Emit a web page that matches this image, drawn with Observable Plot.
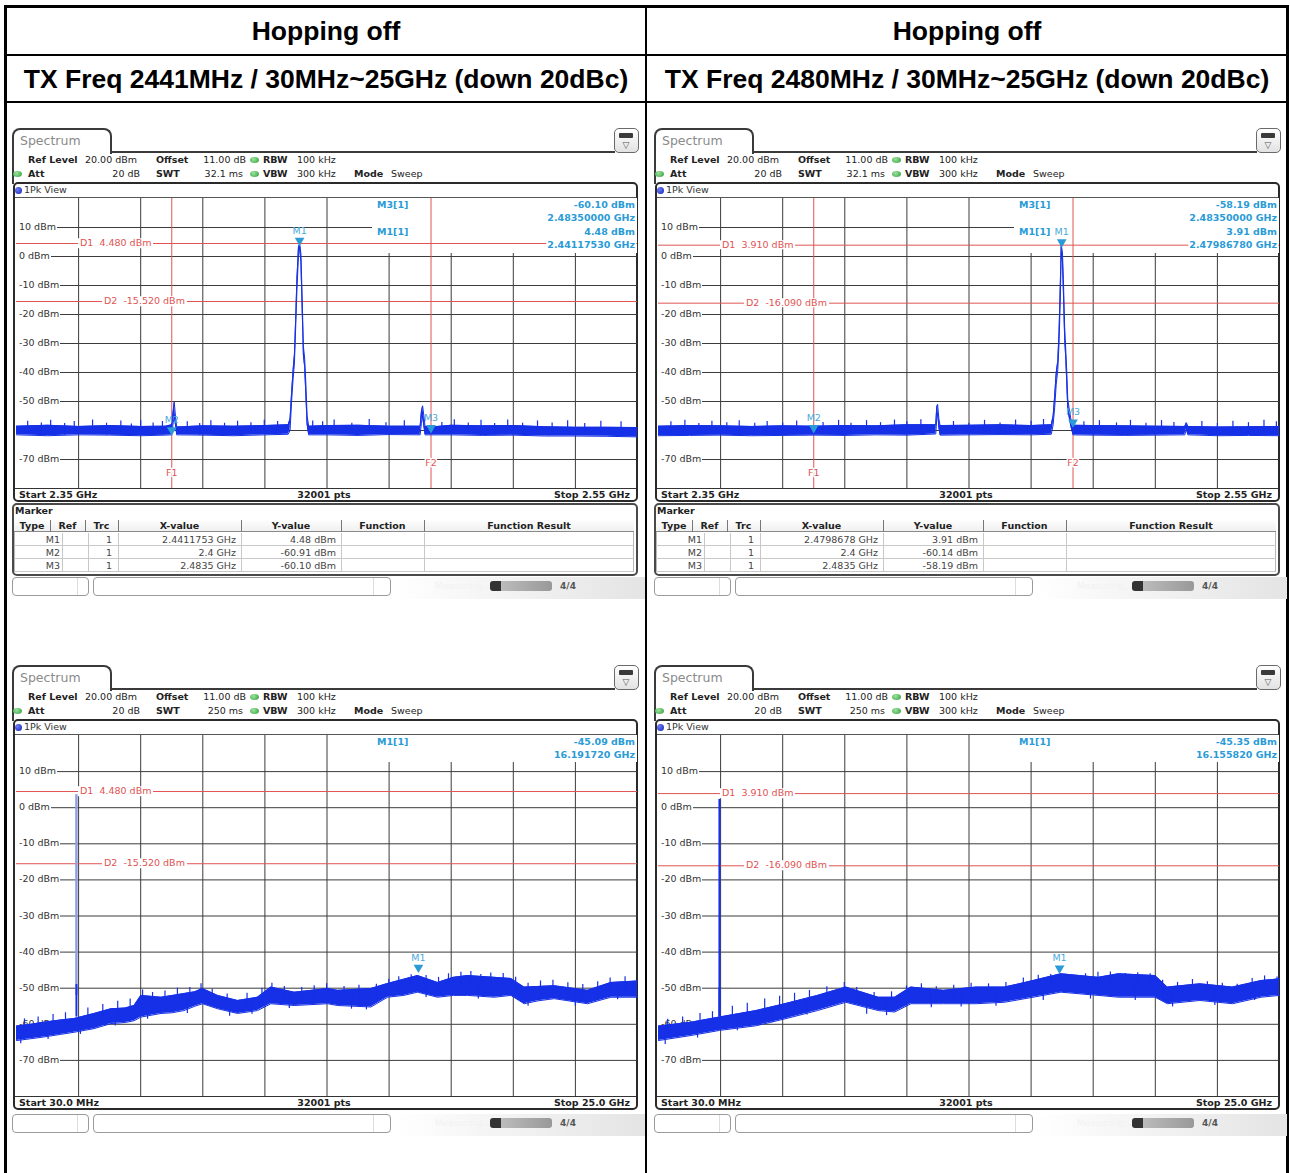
<!DOCTYPE html>
<html>
<head>
<meta charset="utf-8">
<script src="https://cdn.jsdelivr.net/npm/d3@7"></script>
<script src="https://cdn.jsdelivr.net/npm/@observablehq/plot@0.6"></script>
<style>
html,body{margin:0;padding:0;background:#fff;}
#page{position:relative;width:1290px;height:1173px;overflow:hidden;font-family:"DejaVu Sans",Verdana,sans-serif;color:#222;}
#page div{position:absolute;box-sizing:border-box;}
.t{white-space:pre;line-height:1;}
#page svg{display:block;}
</style>
</head>
<body>
<div id="page"></div>
<script>
// ---------------- DATA ----------------
const headerTitles = ["Hopping off", "Hopping off"];
const headerSubtitles = ["TX Freq 2441MHz / 30MHz~25GHz (down 20dBc)", "TX Freq 2480MHz / 30MHz~25GHz (down 20dBc)"];

const yTicks = [-70, -60, -50, -40, -30, -20, -10, 0, 10];
const bandDomain = [2.35, 2.55];
const wideDomain = [0.03, 25.0];
const bandXTicks = [2.37, 2.39, 2.41, 2.43, 2.45, 2.47, 2.49, 2.51, 2.53];
const wideXTicks = [2.527, 5.024, 7.521, 10.018, 12.515, 15.012, 17.509, 20.006, 22.503];

const bandAxisLabels = ["Start 2.35 GHz", "32001 pts", "Stop 2.55 GHz"];
const wideAxisLabels = ["Start 30.0 MHz", "32001 pts", "Stop 25.0 GHz"];

const paramsBand = ["20.00 dBm", "11.00 dB", "100 kHz", "20 dB", "32.1 ms", "300 kHz", "Sweep"];
const paramsWide = ["20.00 dBm", "11.00 dB", "100 kHz", "20 dB", "250 ms", "300 kHz", "Sweep"];

// display lines (dBm) and frequency lines (GHz)
const d1Left = 4.48, d2Left = -15.52;
const d1Right = 3.91, d2Right = -16.09;
const fLines = [2.4, 2.4835];
const fNames = ["F1", "F2"];

// markers [name, GHz, dBm]
const markersTL = [["M1", 2.4411753, 4.48], ["M2", 2.4, -60.91], ["M3", 2.4835, -60.10]];
const markersTR = [["M1", 2.4798678, 3.91], ["M2", 2.4, -60.14], ["M3", 2.4835, -58.19]];
const markersBL = [["M1", 16.19172, -45.09]];
const markersBR = [["M1", 16.15582, -45.35]];

// marker readouts
const readoutTL = [["M3[1]", "-60.10 dBm", "2.48350000 GHz"], ["M1[1]", "4.48 dBm", "2.44117530 GHz"]];
const readoutTR = [["M3[1]", "-58.19 dBm", "2.48350000 GHz"], ["M1[1]", "3.91 dBm", "2.47986780 GHz"]];
const readoutBL = [["M1[1]", "-45.09 dBm", "16.191720 GHz"]];
const readoutBR = [["M1[1]", "-45.35 dBm", "16.155820 GHz"]];

// marker tables
const tableHeader = ["Type", "Ref", "Trc", "X-value", "Y-value", "Function", "Function Result"];
const tableTL = [["M1", "", "1", "2.4411753 GHz", "4.48 dBm"], ["M2", "", "1", "2.4 GHz", "-60.91 dBm"], ["M3", "", "1", "2.4835 GHz", "-60.10 dBm"]];
const tableTR = [["M1", "", "1", "2.4798678 GHz", "3.91 dBm"], ["M2", "", "1", "2.4 GHz", "-60.14 dBm"], ["M3", "", "1", "2.4835 GHz", "-58.19 dBm"]];

// traces: [freq GHz, lower envelope dBm, upper envelope dBm]
const traceTL = [
 [2.350,-61.5,-58.5],[2.360,-61.8,-58.2],[2.370,-61.5,-58.6],[2.380,-61.6,-58.3],[2.390,-61.8,-58.6],
 [2.398,-61.6,-58.5],[2.4000,-61.5,-58.0],[2.4004,-58,-54],[2.4008,-55,-50.2],[2.4012,-58,-55],[2.4016,-61.5,-58.8],
 [2.410,-61.6,-58.4],[2.420,-61.8,-58.5],[2.430,-61.5,-58.3],[2.4375,-61.3,-58.0],
 [2.4381,-60,-56],[2.4386,-50,-47],[2.4391,-42,-39],[2.4395,-37,-34],[2.4399,-25,-22],[2.4403,-12,-8],
 [2.4408,0,3],[2.4412,3.5,4.48],[2.4416,-2,1],[2.4420,-18,-14],[2.4424,-34,-31],[2.4428,-38,-35],
 [2.4432,-48,-44],[2.4436,-58,-55],[2.4441,-61.5,-58.5],
 [2.450,-61.5,-58.3],[2.460,-61.7,-58.2],[2.470,-61.4,-58.5],[2.4800,-61.5,-58.5],
 [2.4804,-57.5,-53.5],[2.4808,-55,-51.5],[2.4812,-58.5,-55],[2.4816,-61.5,-58.6],[2.4835,-61.5,-58.8],
 [2.490,-61.5,-58.2],[2.500,-61.7,-58.4],[2.510,-61.6,-58.3],[2.520,-61.9,-58.7],[2.530,-61.9,-58.9],
 [2.540,-62.0,-58.9],[2.550,-62.2,-59.0]
];
const spikesTL = [
 [2.3536,-56.8],[2.3580,-57.4],[2.3610,-56.5],[2.3655,-57.6],[2.3686,-56.9],[2.3745,-56.4],[2.3790,-57.5],
 [2.3836,-56.7],[2.3870,-57.8],[2.3900,-56.6],[2.3940,-57.4],[2.3970,-56.9],[2.4050,-57.0],[2.4090,-57.6],
 [2.4126,-56.6],[2.4170,-57.5],[2.4212,-56.8],[2.4255,-57.3],[2.4298,-56.5],[2.4341,-56.9],[2.4454,-56.7],
 [2.4486,-57.0],[2.4523,-56.4],[2.4580,-57.5],[2.4636,-56.2],[2.4690,-57.3],[2.4749,-56.6],[2.4870,-57.2],
 [2.4910,-56.3],[2.4955,-57.4],[2.4996,-56.5],[2.5040,-57.6],[2.5082,-56.4],[2.5130,-57.5],[2.5178,-56.7],
 [2.5225,-57.4],[2.5275,-56.6],[2.5330,-57.6],[2.5382,-56.8],[2.5447,-57.0]
];

const traceTR = [
 [2.350,-61.8,-58.5],[2.360,-61.7,-58.3],[2.370,-61.6,-58.4],[2.380,-61.8,-58.6],[2.390,-61.7,-58.4],
 [2.400,-61.6,-58.5],[2.410,-61.7,-58.3],[2.420,-61.5,-58.4],[2.430,-61.6,-58.0],[2.4393,-61.2,-58.0],
 [2.4396,-56,-52],[2.4399,-54,-51],[2.4403,-59,-56],[2.4407,-61.6,-58.3],
 [2.450,-61.5,-58.2],[2.460,-61.4,-58.0],[2.470,-61.5,-58.3],[2.4765,-61.3,-58.0],
 [2.4771,-58,-55],[2.4776,-52,-48],[2.4781,-44,-40],[2.4786,-39,-36],[2.4790,-30,-26],[2.4794,-15,-10],
 [2.4797,1,3.91],[2.4801,-2,1.5],[2.4804,-12,-8],[2.4808,-28,-24],[2.4812,-36,-33],[2.4815,-44,-40],
 [2.4818,-52,-49],[2.4822,-55,-52],[2.4828,-58.5,-56],[2.4835,-61.5,-58.2],
 [2.490,-61.6,-58.3],[2.500,-61.7,-58.4],[2.510,-61.6,-58.5],[2.5195,-61.5,-58.6],[2.5200,-59.5,-57.3],
 [2.5205,-61.5,-58.6],[2.530,-61.8,-58.8],[2.540,-61.7,-58.7],[2.550,-61.8,-58.6]
];
const spikesTR = [
 [2.3540,-57.0],[2.3585,-56.5],[2.3630,-57.6],[2.3672,-56.8],[2.3720,-57.3],[2.3760,-56.6],[2.3810,-57.5],
 [2.3850,-56.9],[2.3900,-57.4],[2.3945,-56.7],[2.4030,-57.2],[2.4080,-56.5],[2.4120,-57.5],[2.4170,-56.6],
 [2.4215,-57.3],[2.4260,-56.4],[2.4300,-57.0],[2.4345,-56.3],[2.4450,-56.9],[2.4500,-57.5],[2.4550,-56.5],
 [2.4600,-57.4],[2.4650,-56.4],[2.4700,-56.8],[2.4740,-56.2],[2.4870,-57.0],[2.4920,-56.6],[2.4975,-57.4],
 [2.5020,-56.5],[2.5070,-57.5],[2.5120,-56.6],[2.5160,-57.2],[2.5250,-56.9],[2.5300,-57.6],[2.5350,-56.8],
 [2.5400,-57.3],[2.5450,-56.5],[2.5490,-57.0]
];

const traceBL = [
 [0.03,-64.5,-60.5],[0.6,-64,-60],[1.14,-63.5,-59.4],[1.8,-62.8,-58.8],[2.35,-62.2,-58.4],[3.15,-61.2,-57],
 [3.83,-59.8,-55.7],[4.4,-59.5,-55.5],[4.76,-59,-54.8],[5.03,-58,-52],[5.84,-57,-52.5],[6.3,-56.8,-52],
 [6.76,-56.2,-51.5],[7.2,-55,-51],[7.51,-54.3,-50.1],[8.12,-55.7,-52],[8.92,-57,-53.4],[9.72,-56.2,-52.5],
 [10.26,-54.3,-49.7],[11.2,-54.8,-51.1],[12.54,-54.3,-50.1],[12.94,-54.8,-50.6],[14.28,-55.2,-50.1],
 [14.95,-52.5,-48.7],[15.6,-52,-47.5],[16.16,-51.1,-46.5],[16.96,-52.5,-48.4],[17.6,-52,-47],
 [18.17,-52,-46.5],[19.24,-52.5,-47],[19.91,-52,-47.3],[20.44,-54.3,-49.7],[21.0,-53.5,-49.5],
 [21.65,-52.9,-49.3],[22.99,-54.3,-50.6],[23.93,-52.5,-48.4],[25.0,-52.5,-48]
];
const spikesBL = [
 [0.35,-58.5],[0.9,-58],[1.5,-57.3],[2.0,-56.8],[2.9,-55.5],[3.5,-54.5],[4.1,-53.6],[4.6,-53.0],[5.1,-50.5],
 [5.5,-51.2],[6.0,-50.8],[6.5,-50.0],[7.0,-49.8],[7.45,-48.8],[7.9,-50.2],[8.5,-51.6],[9.3,-51.4],[9.9,-50.0],
 [10.3,-48.6],[10.8,-49.5],[11.5,-49.8],[12.0,-49.3],[12.5,-48.8],[13.2,-49.5],[13.8,-49.2],[14.5,-48.9],
 [15.0,-47.5],[15.4,-46.8],[15.9,-46.3],[16.5,-46.5],[17.0,-47.0],[17.4,-46.0],[17.9,-45.6],[18.3,-45.4],
 [18.7,-46.2],[19.1,-45.8],[19.6,-45.9],[20.1,-47.0],[20.6,-48.6],[21.1,-48.0],[21.6,-47.8],[22.2,-48.5],
 [22.8,-49.0],[23.4,-48.2],[23.9,-47.2],[24.5,-46.8]
];
const dipsBL = [
 [0.2,-65.4],[1.3,-64.2],[2.6,-62.8],[4.0,-60.5],[5.3,-58.6],[6.9,-57.0],[8.6,-57.8],[9.5,-57.2],[11.0,-55.6],
 [13.5,-55.8],[14.1,-56.0],[16.5,-52.6],[18.6,-53.0],[20.6,-55.0],[22.5,-55.0],[24.2,-53.2]
];
const carrierBL = [[2.44, -52, 3.6]];
const carrierCoreBL = [[2.44, -58, -49]];

const traceBR = [
 [0.03,-64.5,-60.5],[1.34,-63.1,-59.4],[2.48,-61.7,-58],[3.96,-60.4,-56.2],[5.11,-58.5,-54.3],
 [6.42,-56.2,-52],[7.56,-53.9,-49.7],[8.87,-56.2,-52.5],[9.53,-56.6,-52.5],[10.18,-54.3,-49.7],
 [11.49,-54.3,-50.6],[12.8,-54.3,-49.7],[13.94,-53.9,-49.7],[15.09,-52.5,-47.9],[16.21,-51.1,-46],
 [17.71,-52,-47],[18.53,-52.5,-46],[20.0,-52.5,-46.5],[20.49,-54.3,-49.7],[21.8,-53.4,-48.8],
 [23.11,-54.3,-49.7],[24.26,-52.5,-47.9],[25.0,-52,-47.4]
];
const spikesBR = [
 [0.4,-58.6],[1.0,-58.0],[1.7,-57.0],[2.2,-56.5],[3.0,-55.0],[3.6,-54.2],[4.3,-53.0],[4.9,-52.2],[5.5,-51.4],
 [6.1,-50.6],[6.8,-49.6],[7.5,-48.4],[8.0,-49.8],[8.7,-51.2],[9.4,-51.0],[10.0,-49.4],[10.6,-48.8],[11.2,-49.6],
 [11.9,-49.2],[12.6,-48.6],[13.3,-48.8],[14.0,-48.4],[14.7,-47.2],[15.3,-46.4],[15.8,-46.2],[16.6,-46.8],
 [17.2,-46.0],[17.7,-45.6],[18.2,-45.5],[18.8,-45.9],[19.3,-45.7],[19.8,-46.0],[20.3,-47.8],[20.9,-48.4],
 [21.5,-47.6],[22.1,-48.2],[22.7,-48.6],[23.3,-48.9],[23.9,-47.3],[24.4,-46.6],[24.9,-46.9]
];
const dipsBR = [
 [0.3,-65.6],[1.6,-63.8],[3.2,-61.8],[4.6,-59.6],[6.0,-57.4],[8.4,-57.2],[9.2,-57.6],[11.0,-55.4],[12.2,-55.2],
 [13.6,-55.0],[15.5,-53.4],[17.4,-53.0],[19.2,-53.4],[20.7,-55.2],[22.4,-54.8],[24.0,-53.4]
];
const carrierBR = [[2.48, -58, 2.3]];
const carrierCoreBR = [[2.48, -58, -50]];

// ---------------- STYLE ----------------
const BLUE = "#1530e6", RED = "#e05454", CYAN = "#2a9bd6", GRID = "#3c3c3c";
const page = document.getElementById("page");

function B(x, y, w, h, css = "") {
  const d = document.createElement("div");
  d.style.cssText = `left:${x}px;top:${y}px;width:${w}px;height:${h}px;${css}`;
  page.appendChild(d); return d;
}
function T(x, y, s, o = {}) {
  const {size = 9.5, bold = false, color = "#222", anchor = "start", family = null, extra = ""} = o;
  const d = document.createElement("div"); d.className = "t";
  const tx = anchor === "end" ? "-100%" : anchor === "middle" ? "-50%" : "0";
  d.style.cssText = `left:${x}px;top:${y}px;transform:translate(${tx},-50%);font-size:${size}px;font-weight:${bold ? "bold" : "normal"};color:${color};${family ? `font-family:${family};` : ""}${extra}`;
  d.textContent = s; page.appendChild(d); return d;
}
function place(svg, x, y) {
  const d = document.createElement("div");
  d.style.cssText = `left:${x}px;top:${y}px;`;
  d.appendChild(svg); page.appendChild(d); return d;
}

// ---------------- TABLE FRAME ----------------
B(4, 5, 1285, 3, "background:#000");
B(4, 5, 3, 1168, "background:#000");
B(1286, 5, 3, 1168, "background:#000");
B(645, 5, 2, 1168, "background:#000");
B(4, 54, 1285, 2, "background:#000");
B(4, 101, 1285, 2, "background:#000");
const hdrFont = `"Liberation Sans",Arial,sans-serif`;
[326, 967].forEach((cx, i) => {
  T(cx, 31, headerTitles[i], {size: 26.5, bold: true, color: "#000", anchor: "middle", family: hdrFont});
  T(cx, 79, headerSubtitles[i], {size: 26.5, bold: true, color: "#000", anchor: "middle", family: hdrFont});
});

// ---------------- SCREENSHOT ----------------
function screenshot(ox, oy, cfg) {
  const W = 621, H = cfg.plotH, px = 16 + ox, py = 198 + oy;
  // tab + top frame
  B(12 + ox, 128 + oy, 100, 26, "border:2px solid #3a3a3a;border-bottom:none;border-radius:8px 8px 0 0;background:#fff");
  T(20 + ox, 141 + oy, "Spectrum", {size: 12.5, color: "#8a8a8a"});
  B(110 + ox, 151 + oy, 505, 2, "background:#3a3a3a");
  B(12 + ox, 152 + oy, 2, 32, "background:#3a3a3a");
  // icon
  B(614 + ox, 128 + oy, 25, 25, "border:1.5px solid #6a6a6a;border-radius:5px;background:linear-gradient(#fff,#e2e2e2)");
  B(619 + ox, 133 + oy, 14, 5, "background:#3a3a3a;border-radius:1px");
  T(626 + ox, 145 + oy, "▽", {size: 9, color: "#555", anchor: "middle"});
  // params
  const p = cfg.params, r1 = 160 + oy, r2 = 174 + oy;
  const dotCss = "border-radius:50%;background:radial-gradient(circle at 40% 35%,#9be49b,#2f9a3a)";
  T(28 + ox, r1, "Ref Level", {bold: true}); T(85 + ox, r1, p[0]);
  T(156 + ox, r1, "Offset", {bold: true}); T(246 + ox, r1, p[1], {anchor: "end"});
  B(250 + ox, r1 - 3, 9, 6, dotCss);
  T(263 + ox, r1, "RBW", {bold: true}); T(297 + ox, r1, p[2]);
  B(13 + ox, r2 - 3, 9, 6, dotCss);
  T(28 + ox, r2, "Att", {bold: true}); T(140 + ox, r2, p[3], {anchor: "end"});
  T(156 + ox, r2, "SWT", {bold: true}); T(243 + ox, r2, p[4], {anchor: "end"});
  B(250 + ox, r2 - 3, 9, 6, dotCss);
  T(263 + ox, r2, "VBW", {bold: true}); T(297 + ox, r2, p[5]);
  T(354 + ox, r2, "Mode", {bold: true}); T(391 + ox, r2, p[6]);
  // view panel
  B(13 + ox, 182 + oy, 625, H + 30, "border:2px solid #2a2a2a;border-radius:5px;background:#fff");
  B(15 + ox, 197 + oy, 621, 1, "background:#555");
  B(15 + ox, 187 + oy, 7, 7, "border-radius:50%;background:radial-gradient(circle at 35% 35%,#6f7df5,#1020b8)");
  T(24 + ox, 190 + oy, "1Pk View", {size: 9.5, color: "#333"});

  const xd = cfg.domain;
  const base = (marks) => Plot.plot({
    width: W, height: H, margin: 0,
    x: {domain: xd, axis: null}, y: {domain: [-80, 20], axis: null},
    style: {background: "transparent", overflow: "visible", fontFamily: "DejaVu Sans, sans-serif"},
    marks
  });
  // layer 1: grid
  const grid = base([
    Plot.ruleX(cfg.xTicks, {stroke: GRID, strokeWidth: 1}),
    Plot.ruleY(yTicks, {stroke: GRID, strokeWidth: 1})
  ]);
  place(grid, px, py);
  const ys = grid.scale("y");
  // level labels (white background, under the trace)
  yTicks.forEach(v => T(px, py + ys.apply(v), `${v} dBm`, {color: "#333", extra: "background:#fff;padding:1px 1px 1px 3px"}));
  // layer 2: readout background
  B(px + 356, py, W - 356, cfg.readoutH, "background:#fff");
  // layer 3: lines, trace, markers
  const marks = [Plot.ruleY([cfg.d1, cfg.d2], {stroke: RED, strokeWidth: 1})];
  if (cfg.fLines) {
    marks.push(Plot.ruleX(cfg.fLines, {stroke: RED, strokeWidth: 1}));
    marks.push(Plot.text(cfg.fLines, {x: d => d, frameAnchor: "bottom", text: (d, i) => fNames[i],
      fontSize: 9.5, fill: RED, stroke: "white", strokeWidth: 3, paintOrder: "stroke", lineAnchor: "middle"}));
  }
  if (cfg.carrier) {
    marks.push(Plot.ruleX(cfg.carrier, {x: d => d[0], y1: d => d[1], y2: d => d[2], stroke: cfg.carrierColor, strokeWidth: cfg.carrierWidth}));
    marks.push(Plot.ruleX(cfg.carrierCore, {x: d => d[0], y1: d => d[1], y2: d => d[2], stroke: BLUE, strokeWidth: 2}));
  }
  marks.push(
    Plot.areaY(cfg.trace, {x: d => d[0], y1: d => d[1], y2: d => d[2], fill: BLUE}),
    Plot.line(cfg.trace, {x: d => d[0], y: d => d[2], stroke: BLUE, strokeWidth: 1}),
    Plot.line(cfg.trace, {x: d => d[0], y: d => d[1], stroke: BLUE, strokeWidth: 1}),
    Plot.ruleX(cfg.spikes, {x: d => d[0], y1: d => d[1] - 4, y2: d => d[1], stroke: BLUE, strokeWidth: 1.2})
  );
  if (cfg.dips) marks.push(Plot.ruleX(cfg.dips, {x: d => d[0], y1: d => d[1] + 4, y2: d => d[1], stroke: BLUE, strokeWidth: 1.2}));
  marks.push(
    Plot.dot(cfg.markers, {x: d => d[1], y: d => d[2], symbol: "triangle", rotate: 180, r: 3.6, fill: CYAN, stroke: "none", dy: -3}),
    Plot.text(cfg.markers, {x: d => d[1], y: d => d[2], text: d => d[0], dy: -13, fontSize: 9.5, fill: "#4aa9dc"})
  );
  const layer = base(marks);
  if (cfg.fLines) {
    layer.querySelectorAll("text").forEach(t => {
      if (t.textContent === "F1") t.setAttribute("transform", (t.getAttribute("transform") || "") + " translate(0,-16)");
      if (t.textContent === "F2") t.setAttribute("transform", (t.getAttribute("transform") || "") + " translate(0,-26)");
    });
  }
  place(layer, px, py);
  // display-line labels
  T(px + 62, py + ys.apply(cfg.d1), `D1  ${cfg.d1.toFixed(3)} dBm`, {color: RED, extra: "background:#fff;padding:0 2px"});
  T(px + 86, py + ys.apply(cfg.d2), `D2  ${cfg.d2.toFixed(3)} dBm`, {color: RED, extra: "background:#fff;padding:0 2px"});
  // layer 4: readout text
  cfg.readout.forEach((r, i) => {
    const y0 = py + 7 + i * 27;
    const st = {color: CYAN, bold: true, size: 9.5, extra: "background:#fff;padding:0 1px"};
    T(px + 360, y0, r[0], st);
    T(px + W - 1, y0, r[1], {...st, anchor: "end"});
    T(px + W - 1, y0 + 13, r[2], {...st, anchor: "end"});
  });
  // start/stop row
  B(15 + ox, py + H, 621, 1, "background:#333");
  const ly = py + H + 7;
  T(19 + ox, ly, cfg.axisLabels[0], {bold: true});
  T(324 + ox, ly, cfg.axisLabels[1], {bold: true, anchor: "middle"});
  T(630 + ox, ly, cfg.axisLabels[2], {bold: true, anchor: "end"});

  // marker table
  if (cfg.table) {
    B(12 + ox, 503 + oy, 626, 73, "border:2px solid #4a4a4a;border-radius:5px;background:#fff");
    T(15 + ox, 511 + oy, "Marker", {bold: true});
    const hx = [14, 50, 85, 118, 241, 341, 424, 634];
    B(14 + ox, 519 + oy, 620, 53, "border:1px solid #b8b8b8;background:#fff");
    B(14 + ox, 519 + oy, 620, 13, "border-bottom:1px solid #8a8a8a;background:linear-gradient(#fff,#f0f0f0)");
    hx.slice(1, 7).forEach(x => B(x + ox, 520 + oy, 1, 12, "background:#777"));
    tableHeader.forEach((h, i) => T((hx[i] + hx[i + 1]) / 2 + ox, 526 + oy, h, {bold: true, anchor: "middle"}));
    const rx = [62, 88, 118, 241, 341, 424];
    cfg.table.forEach((row, j) => {
      const ry = 533 + j * 13 + oy;
      B(14 + ox, ry + 12, 620, 1, "background:#c8c8c8");
      rx.forEach(x => B(x + ox, ry, 1, 13, "background:#c8c8c8"));
      T(60 + ox, ry + 6.5, row[0], {color: "#444", anchor: "end"});
      T(112 + ox, ry + 6.5, row[2], {color: "#444", anchor: "end"});
      T(236 + ox, ry + 6.5, row[3], {color: "#444", anchor: "end"});
      T(336 + ox, ry + 6.5, row[4], {color: "#444", anchor: "end"});
    });
  }
  // status bar
  const sy = cfg.statusY;
  B(395 + ox, sy, 250, 22, "background:linear-gradient(90deg,#fff 0%,#f4f4f4 40%,#e4e4e4 100%)");
  B(12 + ox, sy, 77, 19, "border:1px solid #9a9a9a;border-radius:4px;background:#fff");
  B(77 + ox, sy + 1, 1, 17, "background:#ddd");
  B(93 + ox, sy, 298, 19, "border:1px solid #9a9a9a;border-radius:4px;background:#fff");
  B(373 + ox, sy + 1, 1, 17, "background:#ddd");
  T(435 + ox, sy + 9, "Measuring...", {size: 9, color: "#f2f2f2"});
  B(490 + ox, sy + 4, 62, 10, "border-radius:3px;background:linear-gradient(90deg,#333 0,#333 18%,#bbb 18%,#999 100%)");
  T(568 + ox, sy + 9, "4/4", {size: 9, bold: true, color: "#555", anchor: "middle"});
}

screenshot(0, 0, {plotH: 290, domain: bandDomain, xTicks: bandXTicks, params: paramsBand, d1: d1Left, d2: d2Left,
  fLines, trace: traceTL, spikes: spikesTL, markers: markersTL, readout: readoutTL, readoutH: 55,
  axisLabels: bandAxisLabels, table: tableTL, statusY: 577});
screenshot(642, 0, {plotH: 290, domain: bandDomain, xTicks: bandXTicks, params: paramsBand, d1: d1Right, d2: d2Right,
  fLines, trace: traceTR, spikes: spikesTR, markers: markersTR, readout: readoutTR, readoutH: 55,
  axisLabels: bandAxisLabels, table: tableTR, statusY: 577});
screenshot(0, 537, {plotH: 361, domain: wideDomain, xTicks: wideXTicks, params: paramsWide, d1: d1Left, d2: d2Left,
  trace: traceBL, spikes: spikesBL, dips: dipsBL, markers: markersBL, readout: readoutBL, readoutH: 27,
  carrier: carrierBL, carrierCore: carrierCoreBL, carrierColor: "#8f9fe0", carrierWidth: 2.5,
  axisLabels: wideAxisLabels, statusY: 1114});
screenshot(642, 537, {plotH: 361, domain: wideDomain, xTicks: wideXTicks, params: paramsWide, d1: d1Right, d2: d2Right,
  trace: traceBR, spikes: spikesBR, dips: dipsBR, markers: markersBR, readout: readoutBR, readoutH: 27,
  carrier: carrierBR, carrierCore: carrierCoreBR, carrierColor: BLUE, carrierWidth: 2,
  axisLabels: wideAxisLabels, statusY: 1114});
</script>
</body>
</html>
